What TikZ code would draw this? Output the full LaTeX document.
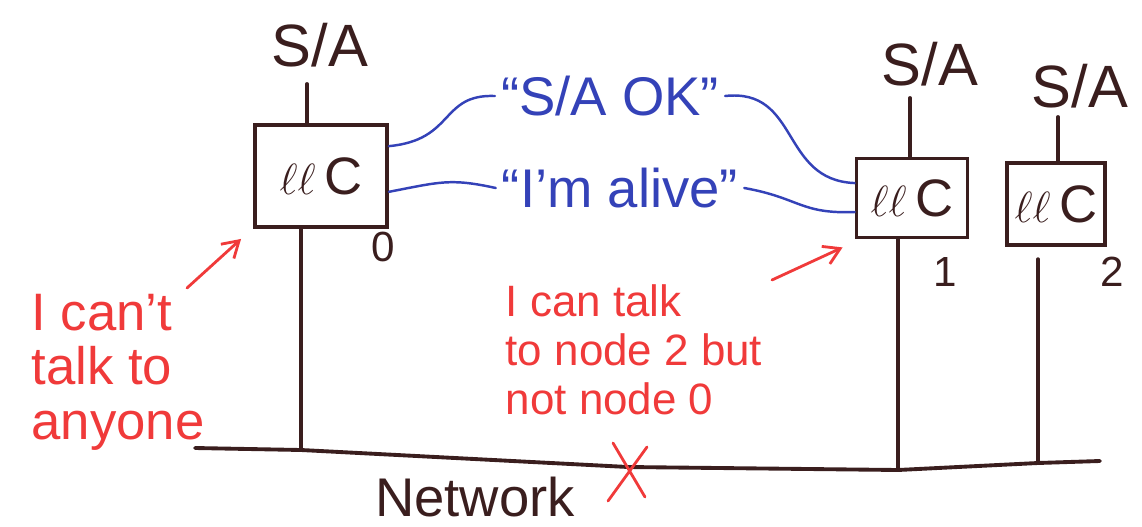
\documentclass[tikz,border=0pt]{standalone}
\usepackage{fontspec}
\setmainfont{Liberation Sans}
\usetikzlibrary{arrows.meta}
\definecolor{ink}{HTML}{3A1E1E}
\definecolor{pen}{HTML}{3442B8}
\definecolor{note}{HTML}{F03A3A}
\begin{document}
\begin{tikzpicture}[x=0.02cm,y=-0.02cm,
  wire/.style={draw=ink, line width=2.2pt, line cap=round, line join=round},
  unit/.style={draw=ink, line width=2.2pt, inner sep=0pt, text=ink,
    font=\fontsize{30}{30}\selectfont},
  tag/.style={text=ink, font=\fontsize{34}{34}\selectfont},
  num/.style={text=ink, font=\fontsize{24}{24}\selectfont},
  msg/.style={text=pen, font=\fontsize{31}{31}\selectfont},
  remark/.style={text=note, align=left, inner sep=0pt},
  link/.style={draw=pen, line width=1.4pt, line cap=round},
  pointer/.style={draw=note, line width=1.6pt, line cap=round,
    -{Straight Barb[length=9pt,width=11pt,line width=1.6pt]}}]
\useasboundingbox (0,0) rectangle (1142,527);

% controller boxes
\node[unit, minimum width=2.64cm, minimum height=2.04cm] (box0) at (321,176) {$\ell\ell$\,C};
\node[unit, minimum width=2.22cm, minimum height=1.58cm] (box1) at (912,198) {$\ell\ell$\,C};
\node[unit, minimum width=1.96cm, minimum height=1.64cm] (box2) at (1056,204) {$\ell\ell$\,C};

% sensor/actuator labels and their leads
\node[tag] (sa0) at (320,45) {S/A};
\node[tag] (sa1) at (930,64) {S/A};
\node[tag] (sa2) at (1080,86) {S/A};
\coordinate (t0) at (307,84);
\coordinate (t1) at (910,98);
\coordinate (t2) at (1058,117);
\draw[wire] (t0) -- (t0 |- box0.north);
\draw[wire] (t1) -- (t1 |- box1.north);
\draw[wire] (t2) -- (t2 |- box2.north);

% node numbers
\node[num] (id0) at (383,247) {0};
\node[num] (id1) at (945,272) {1};
\node[num] (id2) at (1112,272) {2};

% network bus
\coordinate (netW) at (195,448);
\coordinate (n0) at (301,450);
\coordinate (brk) at (628,467);
\coordinate (n1) at (898,470);
\coordinate (n2) at (1038,463);
\coordinate (netE) at (1100,461);
\draw[wire] (n0 |- box0.south) -- (n0);
\draw[wire] (n1 |- box1.south) -- (n1);
\draw[wire, shorten <=7pt] (n2 |- box2.south) -- (n2);
\draw[wire] (netW) -- (n0) -- (brk) -- (n1) -- (n2) -- (netE);
\node[text=ink, font=\fontsize{31}{31}\selectfont] (net) at (475,497) {Network};

% broken link mark
\draw[draw=note, line width=1.6pt, line cap=round]
  ([shift={(-15,-24)}]brk) -- ([shift={(17,30)}]brk)
  ([shift={(19,-20)}]brk) -- ([shift={(-20,34)}]brk);

% messages
\node[msg] (ok) at (610,96) {“S/A OK”};
\node[msg] (alive) at (620,188) {“I'm alive”};
\draw[link] ([yshift=17pt]box0.east) .. controls (455,140) and (440,94) .. (ok.west);
\draw[link] ([yshift=-9pt]box0.east) .. controls (440,182) and (450,178) .. (alive.west);
\draw[link] (ok.east) .. controls (800,88) and (780,180) .. ([yshift=8.5pt]box1.west);
\draw[link] (alive.east) .. controls (800,198) and (800,214) .. ([yshift=-8pt]box1.west);

% remarks
\node[remark, font=\fontsize{30}{31}\selectfont] (r0) at (118,372) {I can't\\talk to\\anyone};
\node[remark, font=\fontsize{25}{28}\selectfont] (r1) at (634,350) {I can talk\\to node 2 but\\not node 0};
\coordinate (p0) at (187,288);
\coordinate (p1) at (772,280);
\draw[pointer] (p0) -- ([shift={(-12,10)}]box0.south west);
\draw[pointer] (p1) -- ([shift={(-12,8)}]box1.south west);
\end{tikzpicture}
\end{document}
